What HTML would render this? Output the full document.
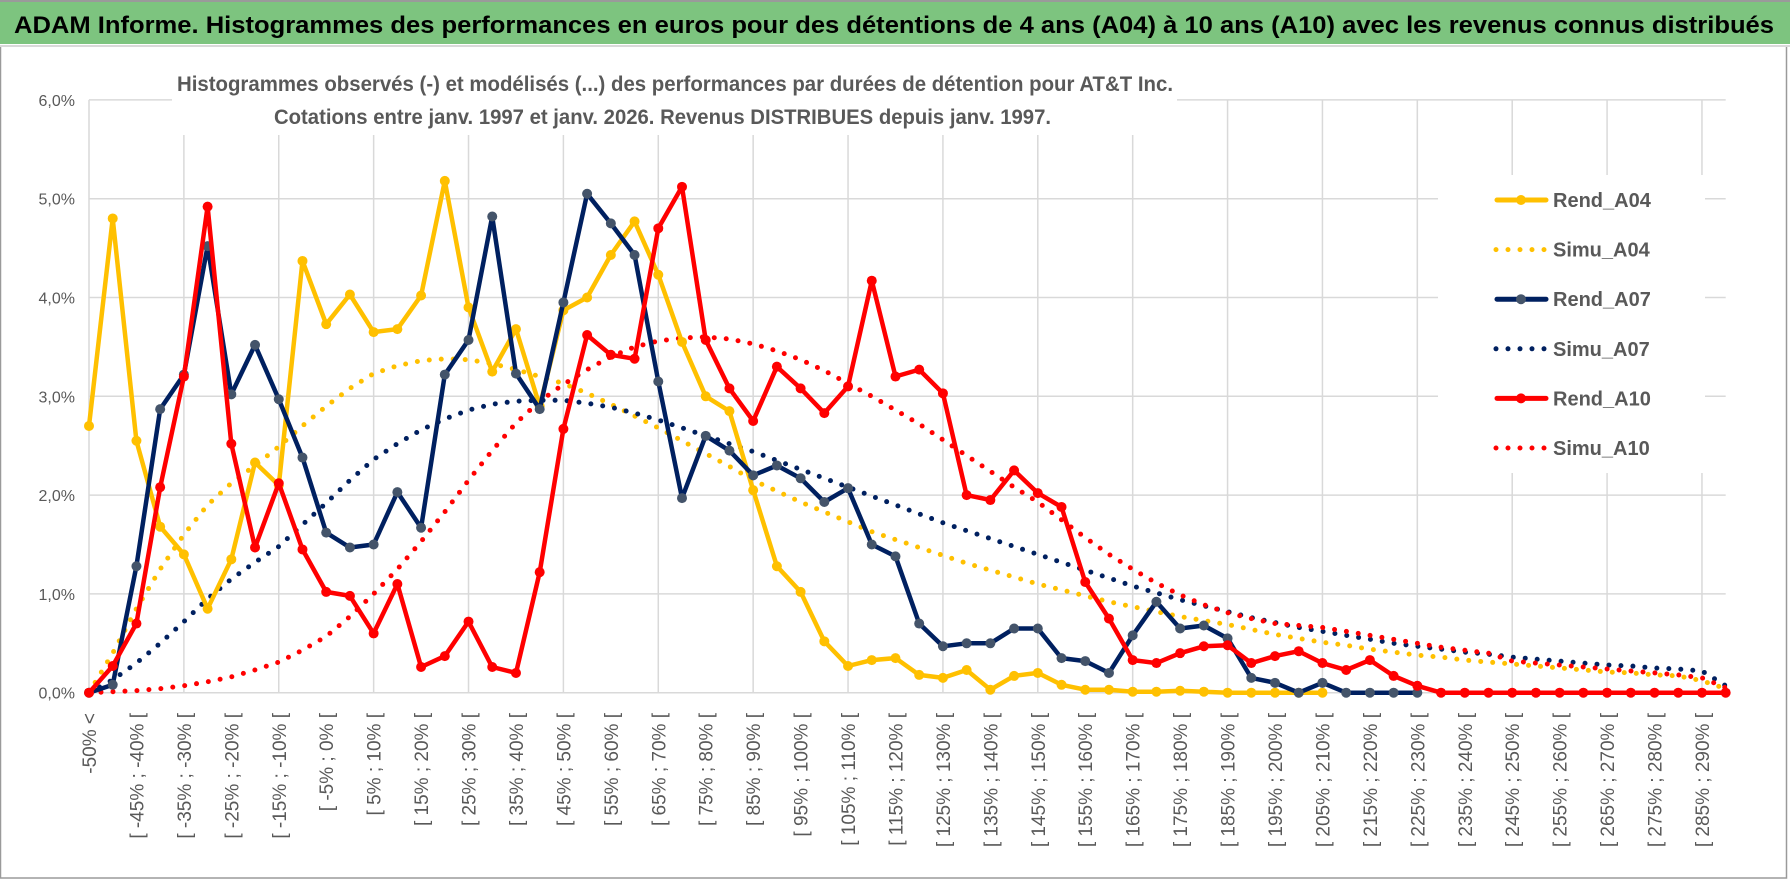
<!DOCTYPE html>
<html><head><meta charset="utf-8">
<style>
html,body{margin:0;padding:0;background:#fff;}
svg{display:block;font-family:"Liberation Sans",sans-serif;}
</style></head>
<body>
<svg id="chart" width="1790" height="888" viewBox="0 0 1790 888">
  <rect x="0" y="0" width="1790" height="888" fill="#ffffff"/>
  <rect x="0.5" y="46" width="1786" height="832" fill="#fff" stroke="#9a9a9a" stroke-width="1.5"/>
  <rect x="0" y="1" width="1790" height="43" fill="#7DC47F"/>
  <line x1="0" y1="1" x2="1790" y2="1" stroke="#9a9a9a" stroke-width="2"/>
  <line x1="0" y1="46" x2="1790" y2="46" stroke="#d9d9d9" stroke-width="2"/>
  <text x="14" y="33" font-size="24" font-weight="bold" fill="#000" textLength="1760" lengthAdjust="spacingAndGlyphs">ADAM Informe. Histogrammes des performances en euros pour des détentions de 4 ans (A04) à 10 ans (A10) avec les revenus connus distribués</text>
  <g id="grid"></g>
  <rect x="172" y="58" width="1005" height="77" fill="#fff"/>
  <text x="177" y="91" font-size="21" font-weight="bold" fill="#595959" textLength="996" lengthAdjust="spacingAndGlyphs">Histogrammes observés (-) et modélisés (...) des performances par durées de détention pour AT&amp;T Inc.</text>
  <text x="274" y="124" font-size="21" font-weight="bold" fill="#595959" textLength="777" lengthAdjust="spacingAndGlyphs">Cotations entre janv. 1997 et janv. 2026. Revenus DISTRIBUES depuis janv. 1997.</text>
  <g id="yaxis"></g>
  <g id="xaxis"></g>
  <g id="series"></g>
  <rect x="1438" y="175" width="267" height="298" fill="#fff"/>
  <g id="legend"></g>
</svg>
<script>
const yTicks = [0,1,2,3,4,5,6];
const yTickLabels = ["0,0%","1,0%","2,0%","3,0%","4,0%","5,0%","6,0%"];
const categories = ["-50% <"];
for (let s = -50; s < 295; s += 5) categories.push("[ " + s + "% ; " + (s + 5) + "% [");
const rendA04 = [2.7,4.8,2.55,1.68,1.4,0.85,1.35,2.33,2.1,4.37,3.73,4.03,3.65,3.68,4.02,5.18,3.9,3.25,3.68,2.9,3.87,4.0,4.43,4.77,4.23,3.55,3.0,2.85,2.05,1.28,1.02,0.52,0.27,0.33,0.35,0.18,0.15,0.23,0.03,0.17,0.2,0.08,0.03,0.03,0.01,0.01,0.02,0.01,0,0,0,0,0];
const simuA04 = [0,0.4,0.85,1.25,1.6,1.9,2.12,2.3,2.49,2.7,2.9,3.08,3.23,3.31,3.36,3.38,3.37,3.33,3.27,3.2,3.13,3.03,2.92,2.8,2.68,2.55,2.42,2.29,2.15,2.04,1.93,1.83,1.73,1.63,1.55,1.47,1.39,1.31,1.24,1.17,1.1,1.04,0.98,0.92,0.87,0.82,0.77,0.73,0.69,0.64,0.59,0.55,0.51,0.48,0.44,0.41,0.38,0.36,0.33,0.31,0.29,0.27,0.25,0.23,0.21,0.2,0.18,0.17,0.12,0.04];
const rendA07 = [0,0.08,1.28,2.87,3.22,4.52,3.02,3.52,2.97,2.38,1.62,1.47,1.5,2.03,1.67,3.22,3.57,4.82,3.23,2.87,3.95,5.05,4.75,4.43,3.15,1.97,2.6,2.45,2.2,2.3,2.17,1.93,2.07,1.5,1.38,0.7,0.47,0.5,0.5,0.65,0.65,0.35,0.32,0.2,0.58,0.92,0.65,0.68,0.55,0.15,0.1,0,0.1,0,0,0,0];
const simuA07 = [0,0.13,0.3,0.5,0.72,0.95,1.15,1.32,1.48,1.7,1.92,2.15,2.36,2.52,2.66,2.77,2.86,2.92,2.95,2.96,2.96,2.93,2.89,2.83,2.76,2.68,2.6,2.52,2.44,2.35,2.26,2.17,2.08,1.99,1.9,1.81,1.72,1.64,1.56,1.48,1.4,1.32,1.24,1.16,1.08,1.01,0.94,0.88,0.82,0.76,0.71,0.66,0.62,0.58,0.54,0.5,0.47,0.44,0.41,0.39,0.36,0.34,0.32,0.3,0.28,0.27,0.25,0.24,0.22,0.07];
const rendA10 = [0,0.27,0.7,2.08,3.2,4.92,2.52,1.47,2.12,1.45,1.02,0.98,0.6,1.1,0.26,0.37,0.72,0.26,0.2,1.22,2.67,3.62,3.42,3.38,4.7,5.12,3.57,3.08,2.75,3.3,3.08,2.83,3.1,4.17,3.2,3.27,3.03,2.0,1.95,2.25,2.02,1.88,1.12,0.75,0.33,0.3,0.4,0.47,0.48,0.3,0.37,0.42,0.3,0.23,0.33,0.17,0.07,0,0,0,0,0,0,0,0,0,0,0,0,0];
const simuA10 = [0,0.01,0.02,0.04,0.07,0.11,0.16,0.23,0.31,0.43,0.57,0.77,1.0,1.25,1.53,1.83,2.15,2.45,2.73,2.95,3.12,3.27,3.4,3.5,3.56,3.59,3.6,3.58,3.53,3.46,3.37,3.26,3.13,3.0,2.86,2.72,2.56,2.4,2.24,2.08,1.93,1.75,1.57,1.4,1.25,1.11,0.99,0.89,0.81,0.75,0.7,0.68,0.66,0.62,0.58,0.54,0.5,0.46,0.43,0.4,0.32,0.3,0.28,0.26,0.24,0.22,0.2,0.18,0.15,0.05];
const seriesNames = ["Rend_A04","Simu_A04","Rend_A07","Simu_A07","Rend_A10","Simu_A10"];

const NS = "http://www.w3.org/2000/svg";
const X0 = 89, DX = 23.72, Y0 = 692.7, PY = 98.8;
function xScale(i){ return X0 + i * DX; }
function yScale(v){ return Y0 - v * PY; }
function mk(tag, attrs, parent){ const e = document.createElementNS(NS, tag); for (const k in attrs) e.setAttribute(k, attrs[k]); parent.appendChild(e); return e; }

const grid = document.getElementById('grid');
const xEnd = xScale(categories.length - 1);
yTicks.forEach(function(t){
  const l = mk('line', {x1: xScale(0), x2: xEnd, y1: yScale(t), y2: yScale(t), stroke: '#d9d9d9', 'stroke-width': 1.5}, grid);
  
  
});
for (let i = 0; i < categories.length; i += 4) {
  const l = mk('line', {x1: xScale(i), x2: xScale(i), y1: yScale(6), y2: Y0, stroke: '#d9d9d9', 'stroke-width': 1.5}, grid);
  
  
}

const yaxis = document.getElementById('yaxis');
yTicks.forEach(function(t, k){
  const tx = mk('text', {x: 75, y: yScale(t) + 6, 'text-anchor': 'end', 'font-size': 16, fill: '#595959'}, yaxis);
  tx.textContent = yTickLabels[k];
  
  
});

const xaxis = document.getElementById('xaxis');
for (let i = 0; i < categories.length; i += 2) {
  const px = xScale(i) + 7, py = 713;
  const tx = mk('text', {x: px, y: py, 'text-anchor': 'end', 'font-size': 19, fill: '#595959', transform: 'rotate(-90 ' + px + ' ' + py + ')'}, xaxis);
  tx.textContent = categories[i];
  
  
}

const sg = document.getElementById('series');
function pts(arr){ return arr.map(function(v, i){ return xScale(i).toFixed(1) + ',' + yScale(v).toFixed(1); }).join(' '); }
function dotted(arr, color, name){
  const p = mk('polyline', {points: pts(arr), fill: 'none', stroke: color, 'stroke-width': 5, 'stroke-linecap': 'round', 'stroke-dasharray': '0 12'}, sg);
  
  
}
function solid(arr, color, mcolor, name){
  const g = mk('g', {}, sg);
  
  
  const p = mk('polyline', {points: pts(arr), fill: 'none', stroke: color, 'stroke-width': 4.5, 'stroke-linejoin': 'round'}, g);
  
  
  arr.forEach(function(v, i){
    const c = mk('circle', {cx: xScale(i), cy: yScale(v), r: 5, fill: mcolor}, g);
    
    
  });
}
dotted(simuA04, '#FFC000', 'simu-a04-line');
dotted(simuA07, '#002060', 'simu-a07-line');
dotted(simuA10, '#FF0000', 'simu-a10-line');
solid(rendA04, '#FFC000', '#FFC000', 'rend-a04');
solid(rendA07, '#002060', '#44546A', 'rend-a07');
solid(rendA10, '#FF0000', '#FF0000', 'rend-a10');

const lg = document.getElementById('legend');
const lgColors = ['#FFC000','#FFC000','#002060','#002060','#FF0000','#FF0000'];
const lgMarker = ['#FFC000',null,'#44546A',null,'#FF0000',null];
seriesNames.forEach(function(n, k){
  const y = 200 + k * 49.6;
  const g = mk('g', {}, lg);
  
  
  if (lgMarker[k]) {
    mk('line', {x1: 1497, x2: 1546, y1: y, y2: y, stroke: lgColors[k], 'stroke-width': 5, 'stroke-linecap': 'round'}, g);
    mk('circle', {cx: 1521, cy: y, r: 5, fill: lgMarker[k]}, g);
  } else {
    mk('line', {x1: 1496, x2: 1547, y1: y, y2: y, stroke: lgColors[k], 'stroke-width': 5, 'stroke-linecap': 'round', 'stroke-dasharray': '0 12'}, g);
  }
  const t = mk('text', {x: 1553, y: y + 7, 'font-size': 20, 'font-weight': 'bold', fill: '#595959'}, g);
  t.textContent = n;
});
</script>
</body></html>
